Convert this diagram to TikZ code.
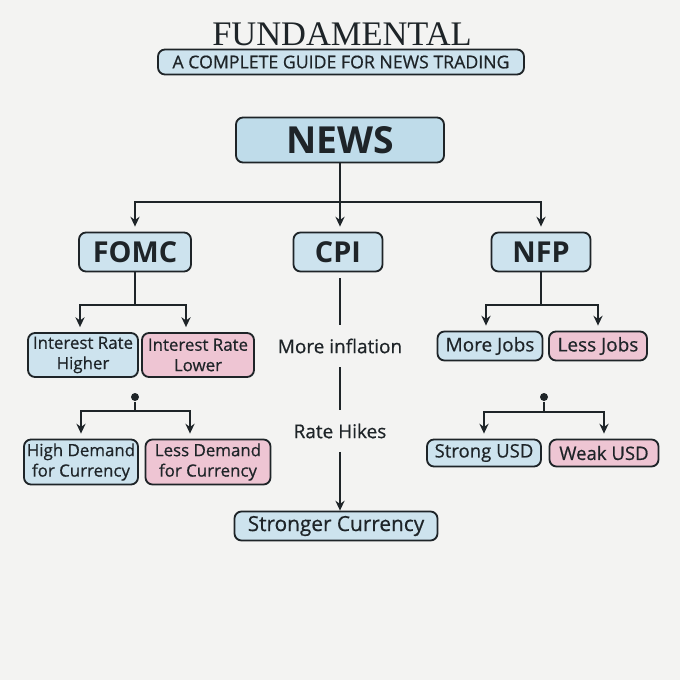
\documentclass[tikz,border=0pt]{standalone}
\usepackage{fontspec}
\setmainfont{Open Sans}
\newfontfamily\boxfont{Open Sans}[FakeBold=0.6]
\newfontfamily\titlefont{Liberation Serif}
\usepackage{tikz}
\usetikzlibrary{arrows.meta}
\usetikzlibrary{calc}
\newcommand\pxu{0.025cm}
\definecolor{paper}{HTML}{F3F3F2}
\definecolor{ink}{HTML}{1E2428}
\definecolor{boxblue}{HTML}{CDE3EE}
\definecolor{newsblue}{HTML}{BFDCEA}
\definecolor{boxpink}{HTML}{EEC5D3}

\begin{document}
\begin{tikzpicture}[x=\pxu,y=-\pxu,color=ink,line width=1.4pt,
  >={Stealth[length=7pt,width=6.5pt]},
  box/.style={draw=ink,line width=1.3pt,rounded corners=5pt,fill=boxblue,
    text=ink,align=center,inner sep=0pt},
  size/.style 2 args={minimum width=#1*\pxu,minimum height=#2*\pxu},
  hibox/.style={box,fill=boxblue,font=\boxfont\fontsize{12}{14.5}\selectfont},
  lobox/.style={box,fill=boxpink,font=\boxfont\fontsize{12}{14.5}\selectfont},
  headbox/.style={box,font=\fontsize{20.5}{20}\selectfont\bfseries},
  step label/.style={inner sep=9pt,font=\boxfont\fontsize{13.5}{14}\selectfont},
  dotnode/.style={circle,fill=ink,inner sep=0pt,minimum size=8*\pxu},
  arr/.style={->,shorten >=5*\pxu}
]
\fill[paper] (0,0) rectangle (680,680);
\useasboundingbox (0,0) rectangle (680,680);

\node[font=\titlefont\fontsize{24.5}{24}\selectfont] (title) at (342,34) {FUNDAMENTAL};
\node[box,size={366}{25},font=\boxfont\fontsize{12.6}{12}\selectfont] (guide) at (341,62)
  {A COMPLETE GUIDE FOR NEWS TRADING};

\node[box,fill=newsblue,size={208}{45},font=\fontsize{26.5}{26}\selectfont\bfseries] (news) at (340,140) {NEWS};
\node[headbox,size={112}{39}] (fomc) at (135,252) {FOMC};
\node[headbox,size={89}{39}]  (cpi)  at (338,252) {CPI};
\node[headbox,size={99}{39}]  (nfp)  at (541,252) {NFP};
\coordinate (split) at (340,202);
\draw (news) -- (split);
\draw[arr] (split) -- (split |- cpi.north);
\draw[arr] (split) -| (fomc);
\draw[arr] (split) -| (nfp);

% FOMC
\node[hibox,size={110}{44}] (irh) at (83,355) {Interest Rate\\Higher};
\node[lobox,size={112}{44}] (irl) at (198,355) {Interest Rate\\Lower};
\coordinate (fsplit) at (135,305);
\draw (fomc) -- (fsplit);
\draw[arr] (fsplit) -| ($(irh.north)+(-3,0)$);
\draw[arr] (fsplit) -| ($(irl.north)+(-12,0)$);
\node[dotnode] (fdot) at (135,397) {};
\node[hibox,size={114}{45}] (hd) at (81,462) {High Demand\\for Currency};
\node[lobox,size={125}{45}] (ld) at (208,462) {Less Demand\\for Currency};
\coordinate (fsplit2) at (135,411);
\draw (fdot) -- (fsplit2);
\draw[arr] (fsplit2) -| (hd);
\draw[arr] (fsplit2) -| ($(ld.north)+(-18,0)$);

% CPI
\node[step label] (infl) at (340,346) {More inflation};
\node[step label] (hike) at (340,431) {Rate Hikes};
\node[hibox,size={203}{29},font=\boxfont\fontsize{14.8}{14}\selectfont] (strong) at (336,526) {Stronger Currency};
\draw[shorten <=6*\pxu] (cpi.south -| infl) -- (infl);
\draw (infl) -- (hike);
\draw[->] (hike) -- (hike |- strong.north);

% NFP
\node[hibox,size={105}{29},font=\boxfont\fontsize{13.5}{14}\selectfont] (mj) at (490,346) {More Jobs};
\node[lobox,size={98}{29},font=\boxfont\fontsize{13.5}{14}\selectfont]  (lj) at (598,346) {Less Jobs};
\coordinate (nsplit) at (541,305);
\draw (nfp) -- (nsplit);
\draw[arr] (nsplit) -| ($(mj.north)+(-4,0)$);
\draw[arr] (nsplit) -| (lj);
\node[dotnode] (ndot) at (544,397) {};
\node[hibox,size={114}{27},font=\boxfont\fontsize{13.2}{14}\selectfont] (susd) at (484,453) {Strong USD};
\node[lobox,size={109}{27},font=\boxfont\fontsize{13.2}{14}\selectfont] (wusd) at (604,453) {Weak USD};
\coordinate (nsplit2) at (544,412);
\draw (ndot) -- (nsplit2);
\draw[arr] (nsplit2) -| (susd);
\draw[arr] (nsplit2) -| (wusd);
\end{tikzpicture}
\end{document}
